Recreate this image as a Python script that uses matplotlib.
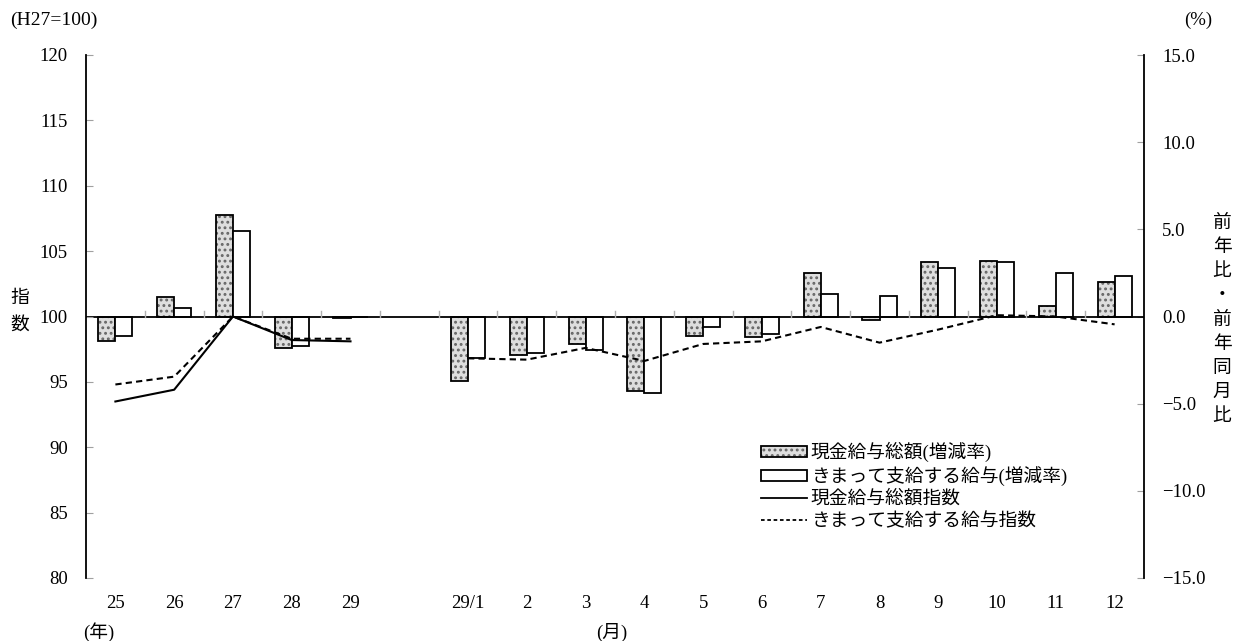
import matplotlib
matplotlib.use("Agg")
import matplotlib.pyplot as plt
import matplotlib.transforms as mtransforms
from matplotlib.patches import Patch
from matplotlib.lines import Line2D
from matplotlib.legend_handler import HandlerTuple
import numpy as np

plt.rcParams['font.family'] = ['Liberation Serif', 'Noto Sans CJK JP']
plt.rcParams['hatch.linewidth'] = 1.3

# categories: annual (H25-H29), a spacer slot, then monthly (H29/1-12)
categories = ['25', '26', '27', '28', '29', '',
              '29/1', '2', '3', '4', '5', '6', '7', '8', '9', '10', '11', '12']

# year-on-year change (%)
cash_rate = [-1.4, 1.1, 5.8, -1.8, -0.1, np.nan,
             -3.7, -2.2, -1.6, -4.3, -1.1, -1.2, 2.5, -0.2, 3.1, 3.2, 0.6, 2.0]
sched_rate = [-1.1, 0.5, 4.9, -1.7, 0.0, np.nan,
              -2.4, -2.1, -1.9, -4.4, -0.6, -1.0, 1.3, 1.2, 2.8, 3.1, 2.5, 2.3]

# index (H27=100)
cash_index_year = [93.5, 94.4, 100.0, 98.2, 98.1]
sched_index_year = [94.8, 95.4, 100.0, 98.3, 98.3]
sched_index_month = [96.8, 96.7, 97.6, 96.6, 97.9, 98.1,
                     99.2, 98.0, 99.0, 100.1, 100.0, 99.4]

left_ticks = [80, 85, 90, 95, 100, 105, 110, 115, 120]
right_ticks = [-15.0, -10.0, -5.0, 0.0, 5.0, 10.0, 15.0]

FS = 13.5
STIPPLE_FACE = '#dedede'
STIPPLE_DOT = '#666666'
STIPPLE = '...'

fig = plt.figure(figsize=(12.34, 6.41), dpi=100)
ax = fig.add_axes([86 / 1234, 1 - 578 / 641, (1144 - 86) / 1234, (578 - 55) / 641])
ax2 = ax.twinx()

n = len(categories)
x = np.arange(n)
bw = 0.29

# bars on the right-hand (%) axis
ax2.bar(x - bw / 2, cash_rate, width=bw, facecolor=STIPPLE_FACE, edgecolor=STIPPLE_DOT,
        hatch=STIPPLE, linewidth=0, zorder=2)
ax2.bar(x - bw / 2, cash_rate, width=bw, fill=False, edgecolor='black',
        linewidth=1.3, zorder=3)
ax2.bar(x + bw / 2, sched_rate, width=bw, facecolor='white', edgecolor='black',
        linewidth=1.3, zorder=3)
ax2.set_ylim(-15, 15)
ax2.set_yticks(right_ticks)
ax2.set_yticklabels([f"{v:.1f}".replace('-', '\u2212') for v in right_ticks])

# index lines on the left axis, drawn above the bars
ax.set_zorder(ax2.get_zorder() + 1)
ax.patch.set_visible(False)
ax.plot(x[:5], cash_index_year, color='black', lw=1.5)
ax.plot(x[:5], sched_index_year, color='black', lw=1.5, ls=(0, (3, 2)))
ax.plot(x[6:], sched_index_month, color='black', lw=1.5, ls=(0, (3, 2)))
ax.axhline(100, color='black', lw=1.3, zorder=1)
ax.set_ylim(80, 120)
ax.set_yticks(left_ticks)
ax.set_xlim(-0.5, n - 0.5)

# category boundary ticks on the baseline
for b in np.arange(0.5, n - 0.5, 1.0):
    ax.plot([b, b], [100, 100.45], color='#b0b0b0', lw=1.0)

for a in (ax, ax2):
    for s in ('top', 'bottom'):
        a.spines[s].set_visible(False)
    a.set_xticks([])
ax.spines['right'].set_visible(False)
ax.spines['left'].set_linewidth(1.3)
ax2.spines['right'].set_linewidth(1.3)
ax2.spines['left'].set_visible(False)

ax.tick_params(axis='y', direction='in', length=5, color='#a0a0a0', pad=13,
               labelsize=FS)
ax2.tick_params(axis='y', direction='in', length=5, color='#a0a0a0', pad=13,
                labelsize=FS)

# category labels below the plot
trans = mtransforms.blended_transform_factory(ax.transData, fig.transFigure)
for xi, lab in zip(x, categories):
    if lab:
        ax.text(xi, 1 - 603 / 641, lab, transform=trans, ha='center', va='center',
                fontsize=FS)

fig.text(99 / 1234, 1 - 632 / 641, '(年)', ha='center', va='center', fontsize=FS)
fig.text(612 / 1234, 1 - 632 / 641, '(月)', ha='center', va='center', fontsize=FS)
fig.text(10 / 1234, 1 - 20 / 641, '(H27=100)', ha='left', va='center', fontsize=14)
fig.text(1198 / 1234, 1 - 20 / 641, '(%)', ha='center', va='center', fontsize=FS)
fig.text(20 / 1234, 1 - 312 / 641, '指\n数', ha='center', va='center', fontsize=FS,
         linespacing=1.75)
fig.text(1222 / 1234, 1 - 320 / 641, '前\n年\n比\n・\n前\n年\n同\n月\n比',
         ha='center', va='center', fontsize=FS, linespacing=1.55)

# legend
h_cash = (Patch(facecolor=STIPPLE_FACE, edgecolor=STIPPLE_DOT, hatch=STIPPLE, linewidth=0),
          Patch(fill=False, edgecolor='black', linewidth=1.3))
h_sched = Patch(facecolor='white', edgecolor='black', linewidth=1.3)
h_cidx = Line2D([], [], color='black', lw=1.3)
h_sidx = Line2D([], [], color='black', lw=1.3, ls=(0, (2, 1.5)))
fig.legend([h_cash, h_sched, h_cidx, h_sidx],
           ['現金給与総額(増減率)', 'きまって支給する給与(増減率)',
            '現金給与総額指数', 'きまって支給する給与指数'],
           handler_map={tuple: HandlerTuple(ndivide=1)},
           loc='upper left', bbox_to_anchor=(761 / 1234, 1 - 442 / 641),
           frameon=False, fontsize=FS, handlelength=2.45, handleheight=0.5,
           handletextpad=0.2, labelspacing=0.22, borderaxespad=0, borderpad=0)

fig.savefig('out.png', dpi=100)
